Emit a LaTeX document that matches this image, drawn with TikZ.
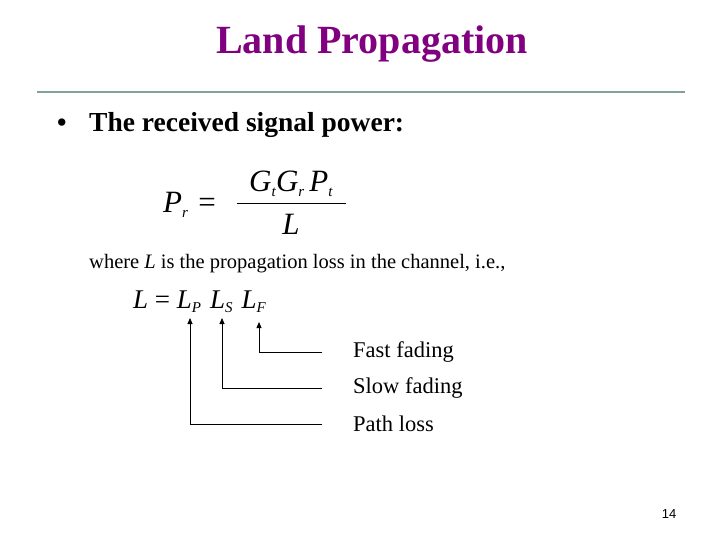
\documentclass[tikz,border=0pt]{standalone}
\usepackage{fontspec}
\setmainfont{Liberation Serif}
\newfontfamily\pnfont{Liberation Sans}
\usetikzlibrary{arrows.meta}
\definecolor{ttl}{HTML}{800080}
\definecolor{rule}{HTML}{7FA39A}
\newcommand\sbs[1]{\raisebox{-0.35ex}{\fontsize{15}{15}\selectfont\textit{#1}}}
\begin{document}
\begin{tikzpicture}[x=1pt,y=-1pt,
  txt/.style={inner sep=0pt,anchor=west},
  arr/.style={line width=0.8pt,-{Triangle[length=6pt,width=5pt]}}]
\useasboundingbox (0,0) rectangle (720,540);
\node[inner sep=0pt,text=ttl] (title) at (372,44) {\fontsize{40}{44}\selectfont\bfseries Land Propagation};
\draw[rule,line width=2pt] (37,92) coordinate (r1) -- (685,92) coordinate (r2);
\node[txt] (bul) at (57,125) {\fontsize{27}{28}\selectfont\bfseries •};
\node[txt] (b1) at (89,125) {\fontsize{27.5}{30}\selectfont\bfseries The received signal power:};
\node[inner sep=0pt,anchor=west] (pr) at (163,205) {\fontsize{31}{33}\selectfont\textit{P}\sbs{r}\,\,=};
\node[inner sep=0pt] (num) at (291,184) {\fontsize{31}{33}\selectfont\textit{G}\sbs{t}\textit{G}\sbs{r}\,\textit{P}\sbs{t}};
\draw[line width=0.9pt] (237,203) coordinate (f1) -- (346,203) coordinate (f2);
\node[inner sep=0pt] (den) at (291,224) {\fontsize{31}{33}\selectfont\textit{L}};
\node[txt] (where) at (89,264) {\fontsize{20.5}{24}\selectfont where \textit{L} is the propagation loss in the channel, i.e.,};
\node[txt] (eq) at (133,302) {\fontsize{27}{30}\selectfont\textit{L} = \textit{L}\sbs{P}\hspace{9pt}\textit{L}\sbs{S}\hspace{9pt}\textit{L}\sbs{F}};
\node[txt] (ff) at (353,352) {\fontsize{22.5}{26}\selectfont Fast fading};
\node[txt] (sf) at (353,388) {\fontsize{22.5}{26}\selectfont Slow fading};
\node[txt] (pl) at (353,424) {\fontsize{22.5}{26}\selectfont Path loss};
\coordinate (lp) at (190,318); \coordinate (ls) at (222,318); \coordinate (lf) at (259,322);
\draw[arr] (322,424) -- (190,424) -- (lp);
\draw[arr] (322,388) -- (222,388) -- (ls);
\draw[arr] (322,352) -- (259,352) -- (lf);
\node[inner sep=0pt] (pg) at (669,514) {\pnfont\fontsize{13}{15}\selectfont 14};
\end{tikzpicture}
\end{document}
